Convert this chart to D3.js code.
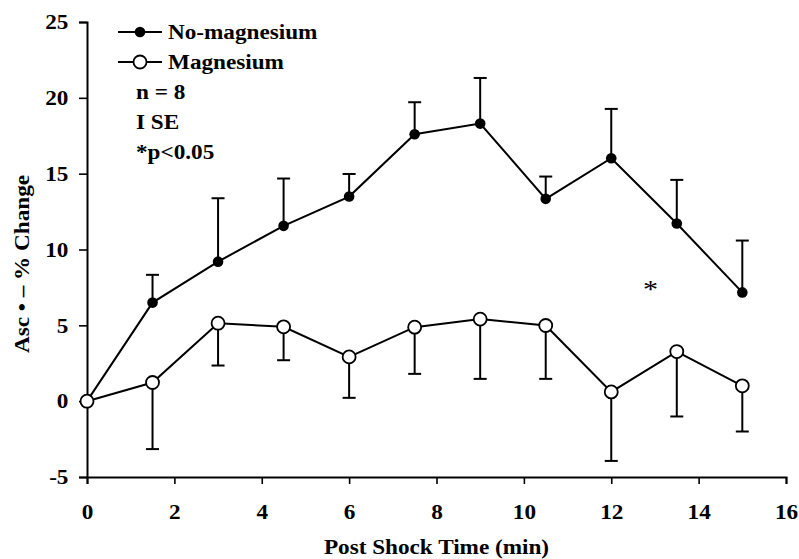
<!DOCTYPE html>
<html><head><meta charset="utf-8">
<script src="https://cdn.jsdelivr.net/npm/d3@7"></script>
<style>
html,body{margin:0;padding:0;background:#fff;}
text{font-family:"Liberation Serif","Times New Roman",serif;font-weight:bold;fill:#000;}
</style></head>
<body>
<svg id="chart" width="799" height="559"></svg>
<script>
const times = [0, 1.5, 3, 4.5, 6, 7.5, 9, 10.5, 12, 13.5, 15];
const noMg = [0, 6.5, 9.2, 11.56, 13.49, 17.6, 18.3, 13.34, 16.02, 11.71, 7.17];
const noMgSE = [0, 1.83, 4.18, 3.12, 1.49, 2.11, 3.01, 1.47, 3.25, 2.88, 3.42];
const mg = [0, 1.23, 5.14, 4.90, 2.92, 4.88, 5.41, 4.99, 0.61, 3.27, 1.01];
const mgSE = [0, 4.39, 2.79, 2.20, 2.70, 3.08, 3.94, 3.52, 4.55, 4.28, 3.01];
const xTicks = [0, 2, 4, 6, 8, 10, 12, 14, 16];
const yTicks = [-5, 0, 5, 10, 15, 20, 25];
const seriesNames = ["No-magnesium", "Magnesium"];
const notes = ["n = 8", "I SE", "*p<0.05"];
const sigMark = {t: 12.9, v: 7.5, label: "*"};

const SX = 1.16; // horizontal stretch of the typeface in the reference
const svg = d3.select("#chart");
const x = d3.scaleLinear().domain([0, 16]).range([87, 786]);
const y = d3.scaleLinear().domain([-5, 25]).range([477, 22]);

function label(px, py, str, opts = {}) {
  const g = svg.append("g").attr("transform", `translate(${px},${py})${opts.rotate ? " rotate(" + opts.rotate + ")" : ""} scale(${SX},1)`);
  const t = g.append("text").attr("x", 0).attr("y", 0).attr("text-anchor", opts.anchor || "start")
    .style("font-size", (opts.size || 20) + "px").text(str);
  if (opts.weight) t.style("font-weight", opts.weight);
  return t;
}

// axes
const fmt = d => String(d);
const xAxis = svg.append("g").attr("transform", `translate(0,${y(-5)})`)
  .call(d3.axisBottom(x).tickValues(xTicks).tickSizeOuter(0).tickSize(7).tickPadding(35).tickFormat(fmt));
const yAxis = svg.append("g").attr("transform", `translate(${x(0)},0)`)
  .call(d3.axisLeft(y).tickValues(yTicks).tickSizeOuter(0).tickSize(8).tickPadding(8).tickFormat(fmt));
[xAxis, yAxis].forEach(g => {
  g.select(".domain").attr("stroke", "#000").attr("stroke-width", 2);
  g.selectAll(".tick line").attr("stroke", "#000").attr("stroke-width", 1.6);
  g.selectAll(".tick text").style("font-family", '"Liberation Serif",serif').style("font-weight", "bold")
    .style("font-size", "20px").attr("fill", "#000").attr("transform", `scale(${SX},1)`);
});
xAxis.selectAll(".tick text").attr("dy", "0");
yAxis.selectAll(".tick text").attr("dy", "0.34em");

// axis titles
label((x(0) + x(16)) / 2, 554, "Post Shock Time (min)", {anchor: "middle"});
label(29, 264, "Asc \u2022 \u2013 % Change", {anchor: "middle", rotate: -90});

const line = d3.line().x(d => x(d[0])).y(d => y(d[1]));
const dNo = times.map((t, i) => [t, noMg[i]]);
const dMg = times.map((t, i) => [t, mg[i]]);

svg.append("path").datum(dNo).attr("d", line).attr("fill", "none").attr("stroke", "#000").attr("stroke-width", 2);
svg.append("path").datum(dMg).attr("d", line).attr("fill", "none").attr("stroke", "#000").attr("stroke-width", 2);

// error bars
const cap = 6.5;
const eb = svg.append("g").attr("stroke", "#000").attr("stroke-width", 2);
times.forEach((t, i) => {
  if (noMgSE[i] > 0) {
    const top = y(noMg[i] + noMgSE[i]);
    eb.append("line").attr("x1", x(t)).attr("x2", x(t)).attr("y1", y(noMg[i])).attr("y2", top);
    eb.append("line").attr("x1", x(t) - cap).attr("x2", x(t) + cap).attr("y1", top).attr("y2", top);
  }
  if (mgSE[i] > 0) {
    const bot = y(mg[i] - mgSE[i]);
    eb.append("line").attr("x1", x(t)).attr("x2", x(t)).attr("y1", y(mg[i])).attr("y2", bot);
    eb.append("line").attr("x1", x(t) - cap).attr("x2", x(t) + cap).attr("y1", bot).attr("y2", bot);
  }
});

// markers
svg.append("g").selectAll("circle").data(dNo).join("circle")
  .attr("cx", d => x(d[0])).attr("cy", d => y(d[1])).attr("r", 5.3).attr("fill", "#000");
svg.append("g").selectAll("circle").data(dMg).join("circle")
  .attr("cx", d => x(d[0])).attr("cy", d => y(d[1])).attr("r", 6.5).attr("fill", "#fff").attr("stroke", "#000").attr("stroke-width", 1.8);

// significance
label(x(sigMark.t), y(sigMark.v) + 11, sigMark.label, {anchor: "middle", size: 26, weight: "normal"});

// legend
const leg = svg.append("g");
const legY = [32, 62];
legY.forEach((ly, i) => {
  leg.append("line").attr("x1", 118).attr("x2", 162).attr("y1", ly).attr("y2", ly).attr("stroke", "#000").attr("stroke-width", 2);
  if (i === 0) leg.append("circle").attr("cx", 140).attr("cy", ly).attr("r", 5.3).attr("fill", "#000");
  else leg.append("circle").attr("cx", 140).attr("cy", ly).attr("r", 6.5).attr("fill", "#fff").attr("stroke", "#000").attr("stroke-width", 1.8);
  label(168, ly + 7, seriesNames[i]);
});
notes.forEach((n, i) => {
  label(136, 99 + i * 30, n);
});
</script>
</body></html>
